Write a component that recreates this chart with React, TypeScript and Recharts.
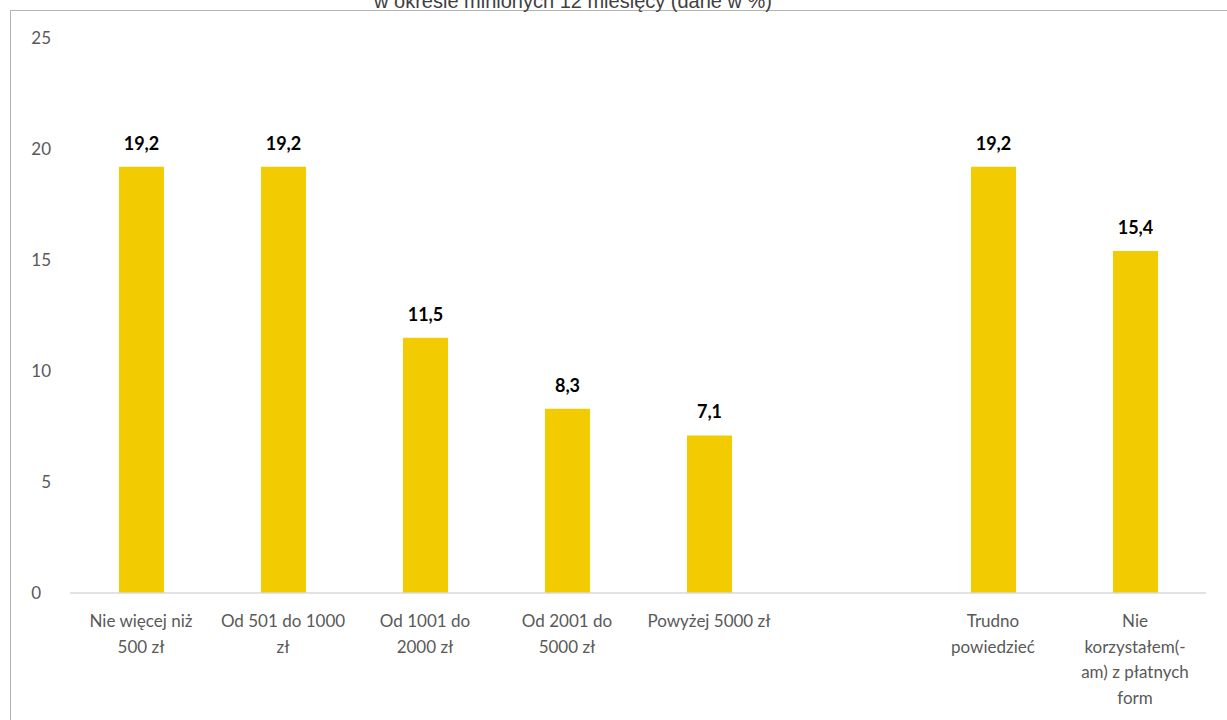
import React from "react";
import { BarChart, Bar, XAxis, YAxis, LabelList } from "recharts";

const categories = [
  "Nie więcej niż 500 zł",
  "Od 501 do 1000 zł",
  "Od 1001 do 2000 zł",
  "Od 2001 do 5000 zł",
  "Powyżej 5000 zł",
  " ",
  "Trudno powiedzieć",
  "Nie korzystałem(-am) z płatnych form",
];
const categoryLines: string[][] = [
  ["Nie więcej niż", "500 zł"],
  ["Od 501 do 1000", "zł"],
  ["Od 1001 do", "2000 zł"],
  ["Od 2001 do", "5000 zł"],
  ["Powyżej 5000 zł"],
  [],
  ["Trudno", "powiedzieć"],
  ["Nie", "korzystałem(-", "am) z płatnych", "form"],
];
const values: (number | null)[] = [19.2, 19.2, 11.5, 8.3, 7.1, null, 19.2, 15.4];
const yTicks = [0, 5, 10, 15, 20, 25];
const title = "w okresie minionych 12 miesięcy (dane w %)";

const data = categories.map((name, i) => ({ name, value: values[i], idx: i }));

const FONT = "Lato, 'Open Sans', sans-serif";

const XTick = (props: any) => {
  const { x, y, index } = props;
  const lines = categoryLines[index] || [];
  return (
    <g>
      {lines.map((l, i) => (
        <text
          key={i}
          x={x}
          y={y + 26 + i * 25.5}
          textAnchor="middle"
          fill="#595959"
          fontSize={17}
          fontFamily={FONT}
        >
          {l}
        </text>
      ))}
    </g>
  );
};

const YTick = (props: any) => {
  const { y, payload } = props;
  const v = payload.value;
  return (
    <text
      x={v === 0 ? 41 : 51}
      y={y + 6}
      textAnchor="end"
      fill="#595959"
      fontSize={17}
      fontFamily={FONT}
    >
      {v}
    </text>
  );
};

const fmt = (v: any) =>
  v === null || v === undefined ? "" : Number(v).toFixed(1).replace(".", ",");

export default function App() {
  return (
    <div
      style={{
        position: "absolute",
        left: 0,
        top: 0,
        width: 1227,
        height: 720,
        overflow: "hidden",
        background: "#fff",
      }}
    >
      <BarChart
        width={1227}
        height={720}
        data={data}
        margin={{ top: 38, right: 21, left: 10, bottom: 0 }}
      >
        <XAxis
          dataKey="name"
          interval={0}
          tickLine={false}
          axisLine={{ stroke: "#d9d9d9", strokeWidth: 1.5 }}
          tick={<XTick />}
          height={127}
        />
        <YAxis
          domain={[0, 25]}
          ticks={yTicks}
          axisLine={false}
          tickLine={false}
          width={60}
          tick={<YTick />}
          interval={0}
        />
        <Bar dataKey="value" fill="#F2CC00" barSize={45} isAnimationActive={false}>
          <LabelList
            dataKey="value"
            position="top"
            offset={17}
            formatter={fmt}
            fill="#000"
            fontSize={18}
            fontWeight="bold"
            fontFamily={FONT}
          />
        </Bar>
      </BarChart>
      <svg
        width={1227}
        height={720}
        style={{ position: "absolute", left: 0, top: 0, pointerEvents: "none" }}
      >
        <rect
          x={10.5}
          y={10.5}
          width={1400}
          height={900}
          fill="none"
          stroke="#b3b3b3"
          strokeWidth={1}
        />
        <text
          x={573}
          y={8}
          textAnchor="middle"
          fontSize={20}
          fill="#404040"
          fontFamily="'Liberation Sans', Arial, sans-serif"
        >
          {title}
        </text>
      </svg>
    </div>
  );
}
